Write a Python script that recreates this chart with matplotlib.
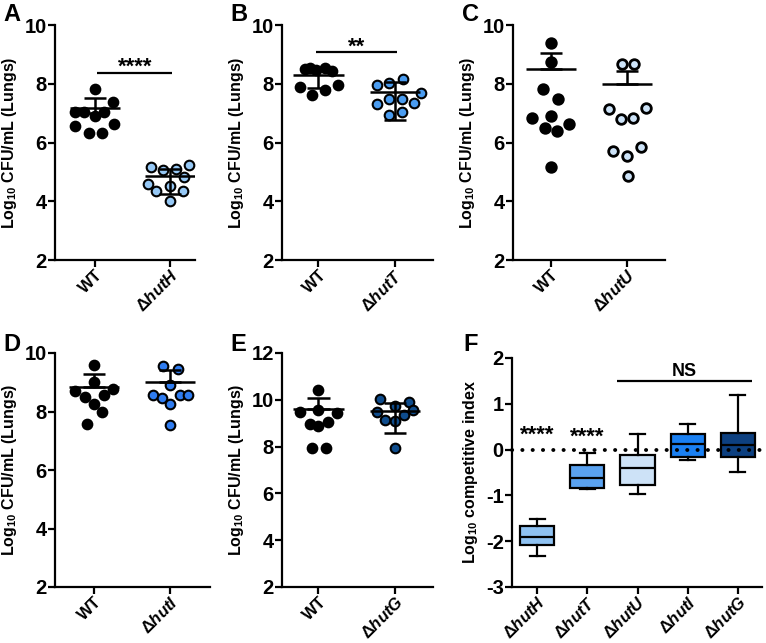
import numpy as np
import matplotlib.pyplot as plt

plt.rcParams['font.family'] = 'Liberation Sans'
plt.rcParams['font.weight'] = 'bold'
plt.rcParams['mathtext.fontset'] = 'custom'
plt.rcParams['mathtext.rm'] = 'Liberation Sans:bold'
plt.rcParams['mathtext.it'] = 'Liberation Sans:italic:bold'
plt.rcParams['mathtext.bf'] = 'Liberation Sans:bold'
plt.rcParams['axes.unicode_minus'] = False

# ---- data ----
# A: WT vs hutH
a_labels = ['WT', r'$\Delta\mathit{hutH}$']
a_wt = [7.82, 7.37, 7.05, 7.05, 6.91, 7.05, 6.56, 6.63, 6.33, 6.33]
a_wt_dx = [0, 0.24, -0.26, -0.14, 0, 0.12, -0.26, 0.25, -0.08, 0.09]
a_mut = [5.18, 5.06, 5.09, 5.23, 4.84, 4.58, 4.52, 4.35, 4.35, 4.01]
a_mut_dx = [-0.26, -0.09, 0.08, 0.25, 0.19, -0.29, 0, -0.19, 0.17, 0]
a_center = [7.16, 4.87]
a_low = [7.0, 4.25]
a_high = [7.53, 5.1]

# B: WT vs hutT
b_labels = ['WT', r'$\Delta\mathit{hutT}$']
b_wt = [8.50, 8.55, 8.47, 8.55, 8.43, 7.90, 7.62, 7.79, 7.96]
b_wt_dx = [-0.17, -0.11, -0.03, 0.09, 0.18, -0.24, -0.08, 0.09, 0.25]
b_mut = [7.96, 8.01, 8.16, 7.70, 7.48, 7.48, 7.30, 7.36, 6.94, 7.03]
b_mut_dx = [-0.24, -0.08, 0.10, 0.34, -0.08, 0.09, -0.24, 0.25, -0.08, 0.09]
b_center = [8.30, 7.72]
b_low = [7.85, 6.77]
b_high = [8.5, 8.05]

# C: WT vs hutU
c_labels = ['WT', r'$\Delta\mathit{hutU}$']
c_wt = [9.40, 8.75, 7.81, 7.47, 6.84, 6.91, 6.62, 6.50, 6.39, 5.16]
c_wt_dx = [0, 0, -0.10, 0.09, -0.25, 0, 0.24, -0.08, 0.08, 0]
c_mut = [8.66, 8.66, 7.14, 7.16, 6.79, 6.82, 5.72, 5.86, 5.55, 4.87]
c_mut_dx = [-0.07, 0.09, -0.24, 0.25, -0.08, 0.08, -0.19, 0.19, 0, 0.01]
c_center = [8.49, 7.98]
c_low = [8.49, 7.98]
c_high = [9.03, 8.44]

# D: WT vs hutI
d_labels = ['WT', r'$\Delta\mathit{hutI}$']
d_wt = [9.59, 9.00, 8.71, 8.76, 8.48, 8.57, 8.25, 7.97, 7.57]
d_wt_dx = [0, 0, -0.25, 0.25, -0.12, 0.13, 0, 0.10, -0.09]
d_mut = [9.57, 9.46, 8.91, 8.57, 8.46, 8.57, 8.57, 8.25, 7.55]
d_mut_dx = [-0.09, 0.10, 0, -0.23, -0.11, 0.13, 0.24, 0, 0]
d_center = [8.85, 9.02]
d_low = [8.85, 9.02]
d_high = [9.29, 9.42]

# E: WT vs hutG
e_labels = ['WT', r'$\Delta\mathit{hutG}$']
e_wt = [10.43, 9.47, 9.56, 9.44, 8.95, 8.88, 9.05, 7.96, 7.96]
e_wt_dx = [0, -0.24, 0, 0.24, -0.11, 0, 0.12, -0.08, 0.10]
e_mut = [10.05, 9.89, 9.56, 9.47, 9.75, 9.33, 9.13, 9.09, 7.96]
e_mut_dx = [-0.19, 0.18, 0.24, -0.24, 0, 0.12, -0.13, 0, 0]
e_center = [9.61, 9.53]
e_low = [9.61, 8.60]
e_high = [10.08, 9.85]

# F: competitive index box plots
f_labels = [r'$\Delta\mathit{hutH}$', r'$\Delta\mathit{hutT}$', r'$\Delta\mathit{hutU}$',
            r'$\Delta\mathit{hutI}$', r'$\Delta\mathit{hutG}$']
f_whislo = [-2.32, -0.85, -0.96, -0.23, -0.49]
f_q1 = [-2.09, -0.83, -0.78, -0.16, -0.17]
f_med = [-1.91, -0.63, -0.41, 0.13, 0.11]
f_q3 = [-1.67, -0.34, -0.12, 0.35, 0.36]
f_whishi = [-1.52, -0.07, 0.34, 0.56, 1.19]
f_colors = ['#8fc2f2', '#5aa2f0', '#cde2f7', '#1a80f2', '#0d4080']

W, H = 766, 643
fig = plt.figure(figsize=(W / 100, H / 100), dpi=100)


def add_ax(left, top, right, bottom):
    return fig.add_axes([left / W, 1 - bottom / H, (right - left) / W, (bottom - top) / H])


def style(ax):
    for s in ['top', 'right']:
        ax.spines[s].set_visible(False)
    for s in ['left', 'bottom']:
        ax.spines[s].set_linewidth(1.6)
    ax.tick_params(width=1.6, length=5)
    ax.tick_params(axis='y', pad=1, labelsize=14.5)
    ax.tick_params(axis='x', pad=0, labelsize=12)
    for t in ax.get_xticklabels() + ax.get_yticklabels():
        t.set_fontweight('bold')


def scatter_panel(ax, labels, wt, wt_dx, mut, mut_dx, center, low, high, color,
                  ylim, yticks, xlim, ring=1.5):
    ax.scatter(np.array(wt_dx), wt, s=48, c='black', edgecolors='black',
               linewidths=ring, zorder=2, clip_on=False)
    ax.scatter(1 + np.array(mut_dx), mut, s=48, c=color, edgecolors='black',
               linewidths=ring, zorder=2, clip_on=False)
    x = np.arange(2)
    ax.hlines(center, x - 0.33, x + 0.33, color='black', lw=1.8, zorder=3)
    ax.vlines(x, low, high, color='black', lw=1.8, zorder=3)
    ax.hlines(low, x - 0.15, x + 0.15, color='black', lw=1.8, zorder=3)
    ax.hlines(high, x - 0.15, x + 0.15, color='black', lw=1.8, zorder=3)
    ax.set_ylim(*ylim)
    ax.set_yticks(yticks)
    ax.set_xlim(*xlim)
    ax.set_xticks(x)
    ax.set_xticklabels(labels, rotation=45, ha='right', rotation_mode='anchor')
    ax.set_ylabel(r'Log$_{10}$ CFU/mL (Lungs)', fontsize=11.5, fontweight='bold', labelpad=4)
    style(ax)


axA = add_ax(55, 25, 195, 260)
scatter_panel(axA, a_labels, a_wt, a_wt_dx, a_mut, a_mut_dx, a_center, a_low, a_high,
              '#96c8f5', (2, 10), [2, 4, 6, 8, 10], (-0.533, 1.333))
axA.hlines(8.36, 0.03, 1.03, color='black', lw=1.6)
axA.text(0.53, 8.36, '****', ha='center', va='baseline', fontsize=16, fontweight='bold')

axB = add_ax(282, 25, 433, 260)
scatter_panel(axB, b_labels, b_wt, b_wt_dx, b_mut, b_mut_dx, b_center, b_low, b_high,
              '#4a9cf0', (2, 10), [2, 4, 6, 8, 10], (-0.477, 1.497))
axB.hlines(9.09, -0.03, 1.02, color='black', lw=1.6)
axB.text(0.5, 9.04, '**', ha='center', va='baseline', fontsize=16, fontweight='bold')

axC = add_ax(513, 25, 665, 260)
scatter_panel(axC, c_labels, c_wt, c_wt_dx, c_mut, c_mut_dx, c_center, c_low, c_high,
              '#cde3f8', (2, 10), [2, 4, 6, 8, 10], (-0.5, 1.5), ring=2.0)

axD = add_ax(55, 353, 210, 587)
scatter_panel(axD, d_labels, d_wt, d_wt_dx, d_mut, d_mut_dx, d_center, d_low, d_high,
              '#2f7cf0', (2, 10), [2, 4, 6, 8, 10], (-0.513, 1.526))

axE = add_ax(282, 353, 433, 587)
scatter_panel(axE, e_labels, e_wt, e_wt_dx, e_mut, e_mut_dx, e_center, e_low, e_high,
              '#0f4c8c', (2, 12), [2, 4, 6, 8, 10, 12], (-0.477, 1.497))

axF = add_ax(512, 358, 762, 587)
stats = []
for i in range(len(f_labels)):
    stats.append(dict(whislo=f_whislo[i], q1=f_q1[i], med=f_med[i],
                      q3=f_q3[i], whishi=f_whishi[i], fliers=[]))
bp = axF.bxp(stats, positions=range(len(f_labels)), widths=0.68, patch_artist=True,
             showfliers=False, capwidths=0.3,
             boxprops=dict(linewidth=1.6, edgecolor='black'),
             medianprops=dict(color='black', linewidth=1.6),
             whiskerprops=dict(color='black', linewidth=1.6),
             capprops=dict(color='black', linewidth=1.6))
for patch, col in zip(bp['boxes'], f_colors):
    patch.set_facecolor(col)
axF.axhline(0, xmin=0, xmax=1.01, color='black', lw=2.8,
            linestyle=(0, (0.05, 2.6)), dash_capstyle='round', zorder=5, clip_on=False)
axF.set_ylim(-3, 2)
axF.set_yticks([-3, -2, -1, 0, 1, 2])
axF.set_xlim(-0.5, 4.48)
axF.set_xticks(range(len(f_labels)))
axF.set_xticklabels(f_labels, rotation=45, ha='right', rotation_mode='anchor')
axF.set_ylabel(r'Log$_{10}$ competitive index', fontsize=11.5, fontweight='bold', labelpad=4)
style(axF)
axF.text(0, 0.2, '****', ha='center', va='baseline', fontsize=16, fontweight='bold')
axF.text(1, 0.14, '****', ha='center', va='baseline', fontsize=16, fontweight='bold')
axF.hlines(1.49, 1.59, 4.29, color='black', lw=1.6)
axF.text(2.94, 1.60, 'NS', ha='center', va='baseline', fontsize=13, fontweight='bold')

# panel letters
for letter, px, py in [('A', 3, 3), ('B', 230, 3), ('C', 462, 3),
                       ('D', 3, 333), ('E', 230, 333), ('F', 463, 333)]:
    fig.text(px / W, 1 - py / H, letter, fontsize=17, fontweight='bold', va='top', ha='left')

fig.savefig('out.png', dpi=100)
